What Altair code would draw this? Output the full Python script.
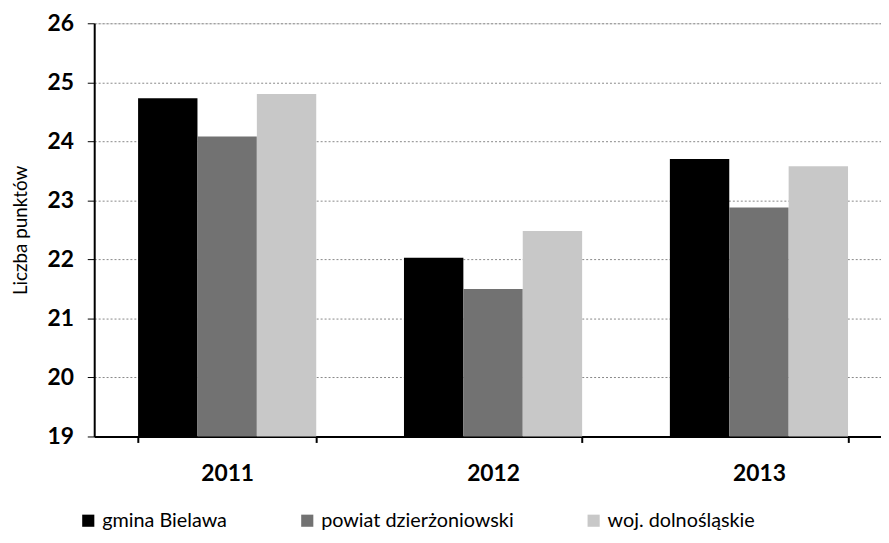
import altair as alt
import pandas as pd

years = ["2011", "2012", "2013"]
series = ["gmina Bielawa", "powiat dzierżoniowski", "woj. dolnośląskie"]
gmina = [24.73, 22.03, 23.7]
powiat = [24.08, 21.5, 22.88]
woj = [24.8, 22.48, 23.58]
colors = ["#000000", "#727272", "#c8c8c8"]

rows = []
for name, vals in zip(series, [gmina, powiat, woj]):
    for y, v in zip(years, vals):
        rows.append({"rok": y, "seria": name, "wartosc": v})
df = pd.DataFrame(rows)

font = "Lato"

chart = alt.Chart(df).mark_bar(clip=True).encode(
    x=alt.X("rok:N", title=None,
            scale=alt.Scale(paddingInner=0.33, paddingOuter=0.165, range=[0, 805]),
            axis=alt.Axis(labelAngle=0, labelFont=font, labelFontSize=23, labelFontWeight="bold",
                          labelColor="#000", labelPadding=20, domainColor="#000", domainWidth=2,
                          tickColor="#000", tickBand="extent", tickSize=6, tickWidth=2, ticks=True,
                          grid=False)),
    xOffset=alt.XOffset("seria:N", sort=series),
    y=alt.Y("wartosc:Q", title="Liczba punktów",
            scale=alt.Scale(domain=[19, 26], nice=False, zero=False),
            axis=alt.Axis(values=[19, 20, 21, 22, 23, 24, 25, 26], labelFont=font, labelFontSize=23,
                          labelFontWeight="bold", labelColor="#000", labelPadding=14,
                          titleFont=font, titleFontSize=19, titleFontWeight="normal", titleColor="#000",
                          titlePadding=17, domainColor="#000", domainWidth=2, tickColor="#000",
                          tickSize=7, grid=True, gridColor="#888", gridDash=[2, 2], gridWidth=1)),
    color=alt.Color("seria:N", sort=series,
                    scale=alt.Scale(domain=series, range=colors),
                    legend=alt.Legend(title=None, orient="none", legendX=-16, legendY=492,
                                      direction="horizontal", symbolType="square", symbolSize=150,
                                      symbolStrokeWidth=0, labelFont=font, labelFontSize=20,
                                      labelColor="#000", columnPadding=70, labelOffset=4,
                                      labelLimit=300)),
).properties(
    width=794,
    height=417,
    autosize=alt.AutoSizeParams(type="none"),
    padding={"left": 87, "top": 13, "right": 0, "bottom": 97},
).configure_view(stroke=None).configure(background="white")

chart.save("out.html", embed_options={"renderer": "svg", "actions": False})
